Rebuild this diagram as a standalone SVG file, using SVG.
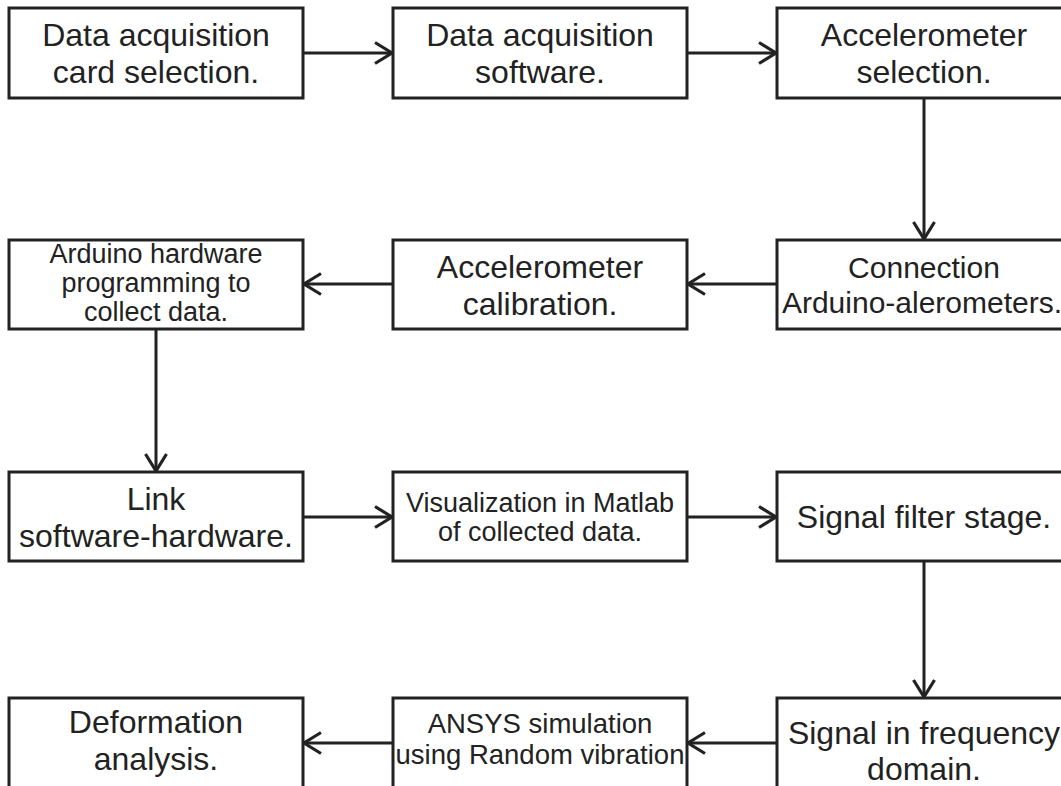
<svg xmlns="http://www.w3.org/2000/svg" width="1061" height="786" viewBox="0 0 1061 786">
  <defs>
    <style>
      .box { fill: #ffffff; stroke: #222222; stroke-width: 3; }
      .conn { fill: none; stroke: #222222; stroke-width: 3; }
      text { font-family: "Liberation Sans", Arial, sans-serif; fill: #222222; text-anchor: middle; }
      .big { font-size: 32px; }
      .mid { font-size: 30px; }
      .small { font-size: 27px; }
      .ansys { font-size: 27.5px; }
    </style>
    <marker id="arrow" markerUnits="userSpaceOnUse" markerWidth="24" markerHeight="26" viewBox="-20 -13 24 26" refX="0" refY="0" orient="auto">
      <path d="M -17 -10.5 L 0 0 L -17 10.5" fill="none" stroke="#222222" stroke-width="3.2"/>
    </marker>
  </defs>
  <rect width="1061" height="786" fill="#ffffff"/>

  <g id="connectors">
    <line class="conn" x1="303" y1="53" x2="392" y2="53" marker-end="url(#arrow)"/>
    <line class="conn" x1="687" y1="53" x2="776" y2="53" marker-end="url(#arrow)"/>
    <line class="conn" x1="924" y1="98" x2="924" y2="239" marker-end="url(#arrow)"/>
    <line class="conn" x1="777" y1="284" x2="688" y2="284" marker-end="url(#arrow)"/>
    <line class="conn" x1="393" y1="284" x2="304" y2="284" marker-end="url(#arrow)"/>
    <line class="conn" x1="156" y1="329" x2="156" y2="471" marker-end="url(#arrow)"/>
    <line class="conn" x1="303" y1="517" x2="392" y2="517" marker-end="url(#arrow)"/>
    <line class="conn" x1="687" y1="517" x2="776" y2="517" marker-end="url(#arrow)"/>
    <line class="conn" x1="924" y1="561" x2="924" y2="697" marker-end="url(#arrow)"/>
    <line class="conn" x1="777" y1="743" x2="688" y2="743" marker-end="url(#arrow)"/>
    <line class="conn" x1="393" y1="743" x2="304" y2="743" marker-end="url(#arrow)"/>
  </g>

  <g id="node-daq-card">
    <rect class="box" x="9" y="8" width="294" height="90"/>
    <text class="big" x="156" y="46">Data acquisition</text>
    <text class="big" x="156" y="83">card selection.</text>
  </g>
  <g id="node-daq-software">
    <rect class="box" x="393" y="8" width="294" height="90"/>
    <text class="big" x="540" y="46">Data acquisition</text>
    <text class="big" x="540" y="83">software.</text>
  </g>
  <g id="node-accel-selection">
    <rect class="box" x="777" y="8" width="294" height="90"/>
    <text class="big" x="924" y="46">Accelerometer</text>
    <text class="big" x="924" y="83">selection.</text>
  </g>

  <g id="node-arduino-programming">
    <rect class="box" x="9" y="240" width="294" height="89"/>
    <text class="small" x="156" y="263">Arduino hardware</text>
    <text class="small" x="156" y="292">programming to</text>
    <text class="small" x="156" y="321">collect data.</text>
  </g>
  <g id="node-accel-calibration">
    <rect class="box" x="393" y="240" width="294" height="89"/>
    <text class="big" x="540" y="278">Accelerometer</text>
    <text class="big" x="540" y="315">calibration.</text>
  </g>
  <g id="node-connection">
    <rect class="box" x="777" y="240" width="294" height="89"/>
    <text class="mid" x="924" y="278">Connection</text>
    <text class="mid" x="922" y="313">Arduino-alerometers.</text>
  </g>

  <g id="node-link">
    <rect class="box" x="9" y="472" width="294" height="89"/>
    <text class="big" x="156" y="510">Link</text>
    <text class="big" x="156" y="547">software-hardware.</text>
  </g>
  <g id="node-visualization">
    <rect class="box" x="393" y="472" width="294" height="89"/>
    <text class="small" x="540" y="512">Visualization in Matlab</text>
    <text class="small" x="540" y="541">of collected data.</text>
  </g>
  <g id="node-filter">
    <rect class="box" x="777" y="472" width="294" height="89"/>
    <text class="big" x="924" y="528">Signal filter stage.</text>
  </g>

  <g id="node-deformation">
    <rect class="box" x="9" y="698" width="294" height="92"/>
    <text class="big" x="156" y="733">Deformation</text>
    <text class="big" x="156" y="770">analysis.</text>
  </g>
  <g id="node-ansys">
    <rect class="box" x="393" y="698" width="294" height="92"/>
    <text class="ansys" x="540" y="733">ANSYS simulation</text>
    <text class="ansys" x="540" y="764">using Random vibration</text>
  </g>
  <g id="node-frequency">
    <rect class="box" x="777" y="698" width="294" height="92"/>
    <text class="big" x="924" y="744">Signal in frequency</text>
    <text class="big" x="924" y="780">domain.</text>
  </g>
</svg>
